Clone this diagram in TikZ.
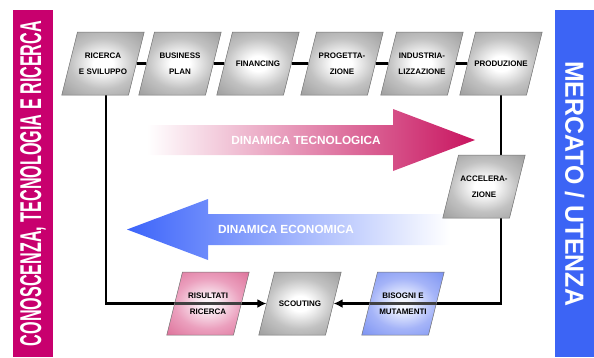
\documentclass[tikz,border=0pt]{standalone}
\usepackage{fontspec}
\setmainfont{Liberation Sans}
\usepackage{graphicx}
\usetikzlibrary{arrows.meta,calc,shapes.geometric,backgrounds}

\definecolor{knowmag}{RGB}{200,0,110}
\definecolor{marketblue}{RGB}{60,100,245}
\definecolor{techred}{RGB}{200,20,95}
\definecolor{ecoblue}{RGB}{60,100,250}
\pgfdeclareradialshading{grayglow}{\pgfpoint{0bp}{0bp}}{color(0bp)=(white); color(6bp)=(white); color(20bp)=(black!24); color(33bp)=(black!36); color(48bp)=(black!42); color(75bp)=(black!47)}
\pgfdeclareradialshading{pinkglow}{\pgfpoint{0bp}{0bp}}{color(0bp)=(white); color(6bp)=(rgb,255:red,250;green,235;blue,242); color(20bp)=(rgb,255:red,235;green,160;blue,190); color(35bp)=(rgb,255:red,222;green,115;blue,155); color(75bp)=(rgb,255:red,210;green,85;blue,130)}
\pgfdeclareradialshading{blueglow}{\pgfpoint{0bp}{0bp}}{color(0bp)=(white); color(6bp)=(rgb,255:red,235;green,240;blue,255); color(20bp)=(rgb,255:red,165;green,180;blue,248); color(35bp)=(rgb,255:red,125;green,148;blue,242); color(75bp)=(rgb,255:red,95;green,120;blue,238)}

\begin{document}
\begin{tikzpicture}[x=1pt,y=-1pt,
  phase/.style={trapezium,trapezium left angle=76,trapezium right angle=104,inner xsep=-7pt,inner ysep=1pt,draw=black!55,line width=0.5pt,shading=grayglow,font=\fontsize{8}{16}\selectfont\bfseries,
    execute at begin node={\begin{minipage}[c][61pt][c]{65pt}\centering},execute at end node={\end{minipage}}},
  link/.style={line width=2.8pt,black},
  showthrough/.style={line width=2.8pt,black!75},
  tip/.style={-{Latex[length=9pt,width=9pt]}},
  sidebar/.style={minimum width=347pt,inner sep=0pt,text=white},
  dyntext/.style={text=white,font=\fontsize{11.8}{13}\selectfont\bfseries}]
  \useasboundingbox (0,0) rectangle (594,357);

  % side bars
  \node[sidebar,fill=knowmag,minimum height=40pt,rotate=90] (knowbar) at (33,183.5) {\resizebox{325pt}{21pt}{\bfseries CONOSCENZA, TECNOLOGIA E RICERCA}};
  \node[sidebar,fill=marketblue,minimum height=39pt,rotate=-90] (marketbar) at (574.5,183.5) {\resizebox{245pt}{19pt}{\bfseries MERCATO / UTENZA}};

  % big arrows
  \shade[left color=white,right color=techred] (147,125) -- (393,125) -- (393,109) -- (475,140) -- (393,171) -- (393,155) -- (147,155) -- cycle;
  \node[dyntext] (techdyn) at (306,140) {DINAMICA TECNOLOGICA};
  \shade[left color=ecoblue,right color=white] (450,214) -- (208,214) -- (208,199) -- (127,229.5) -- (208,260) -- (208,245) -- (450,245) -- cycle;
  \node[dyntext] (ecodyn) at (286,229.5) {DINAMICA ECONOMICA};

  \node[phase] (ricerca) at (103,63.5) {RICERCA\\E SVILUPPO};
  \node[phase] (business) at (180,63.5) {BUSINESS\\PLAN};
  \node[phase] (financing) at (258,63.5) {FINANCING};
  \node[phase] (progettazione) at (342,63.5) {PROGETTA-\\ZIONE};
  \node[phase] (industria) at (422,63.5) {INDUSTRIA-\\LIZZAZIONE};
  \node[phase] (produzione) at (501,63.5) {PRODUZIONE};
  \node[phase] (accelerazione) at (484,186.5) {ACCELERA-\\ZIONE};
  \node[phase,shading=pinkglow] (risultati) at (208,303.5) {RISULTATI\\RICERCA};
  \node[phase] (scouting) at (300,303.5) {SCOUTING};
  \node[phase,shading=blueglow] (bisogni) at (403,303.5) {BISOGNI E\\MUTAMENTI};

  \begin{scope}[on background layer]
    \draw[link] (ricerca) -- (business) -- (financing) -- (progettazione) -- (industria) -- (produzione);
    \draw[link,tip] ([xshift=3pt]ricerca.center) |- (scouting);
    \draw[link,tip] (produzione) |- (scouting);
  \end{scope}
  % the loop shows through the two coloured boxes
  \draw[showthrough] ($(risultati.center)+(-33,0)$) -- ($(risultati.center)+(33,0)$);
  \draw[showthrough] ($(bisogni.center)+(-33,0)$) -- ($(bisogni.center)+(33,0)$);
\end{tikzpicture}
\end{document}
